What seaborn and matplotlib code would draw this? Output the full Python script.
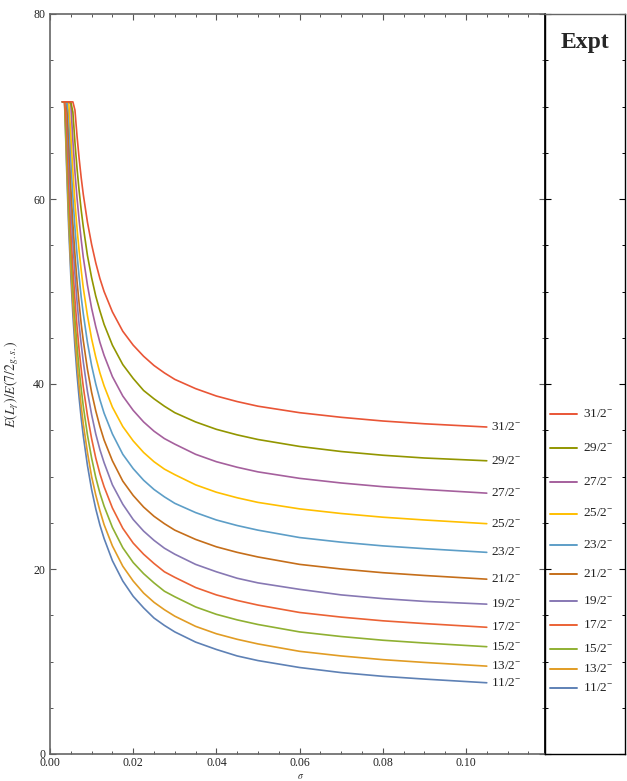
import numpy as np
import pandas as pd
import matplotlib
matplotlib.use("Agg")
import matplotlib.pyplot as plt
import seaborn as sns

# Style
sns.set_theme(style="ticks")
plt.rcParams['font.family'] = ['Liberation Serif', 'DejaVu Serif']
plt.rcParams['mathtext.fontset'] = 'stix'

# Data
states = ["11/2", "13/2", "15/2", "17/2", "19/2", "21/2", "23/2", "25/2", "27/2", "29/2", "31/2"]
colors = ["#5E81B5", "#E19C24", "#8FB032", "#EB6235", "#8778B3", "#C56E1A",
          "#5D9EC7", "#FFBF00", "#A5609D", "#929600", "#E95536"]

sigma = [0.003, 0.0035, 0.004, 0.0045, 0.005, 0.0055, 0.006, 0.0065, 0.007, 0.0075,
         0.008, 0.009, 0.01, 0.011, 0.012, 0.013, 0.015, 0.0175, 0.02, 0.0225,
         0.025, 0.0275, 0.03, 0.035, 0.04, 0.045, 0.05, 0.06, 0.07, 0.08, 0.09, 0.105]

ratio_11 = [70.5, 70.5, 63.25, 56.8, 51.7, 47.5, 44.0, 41.0, 38.5, 36.3, 34.4, 31.2, 28.6, 26.5,
            24.75, 23.3, 20.9, 18.7, 17.05, 15.8, 14.7, 13.9, 13.2, 12.1, 11.3, 10.6, 10.1,
            9.35, 8.8, 8.4, 8.1, 7.7]
ratio_13 = [70.5, 70.5, 64.1, 57.8, 52.7, 48.6, 45.2, 42.3, 39.8, 37.6, 35.7, 32.6, 30.0, 28.0,
            26.3, 24.8, 22.5, 20.3, 18.7, 17.4, 16.4, 15.6, 14.9, 13.8, 13.0, 12.4, 11.9,
            11.1, 10.6, 10.2, 9.9, 9.5]
ratio_15 = [70.5, 70.5, 65.7, 59.5, 54.5, 50.4, 47.0, 44.1, 41.6, 39.5, 37.6, 34.5, 32.0, 29.9,
            28.2, 26.8, 24.5, 22.3, 20.7, 19.5, 18.5, 17.6, 17.0, 15.9, 15.1, 14.5, 14.0,
            13.2, 12.7, 12.3, 12.0, 11.6]
ratio_17 = [70.5, 70.5, 67.8, 61.6, 56.6, 52.5, 49.1, 46.2, 43.7, 41.6, 39.7, 36.6, 34.1, 32.0,
            30.3, 28.9, 26.6, 24.4, 22.8, 21.6, 20.6, 19.7, 19.1, 18.0, 17.2, 16.6, 16.1,
            15.3, 14.8, 14.4, 14.1, 13.7]
ratio_19 = [70.5, 70.5, 70.5, 64.4, 59.4, 55.3, 51.8, 48.9, 46.4, 44.3, 42.4, 39.2, 36.7, 34.6,
            32.9, 31.5, 29.1, 27.0, 25.35, 24.1, 23.1, 22.25, 21.6, 20.5, 19.7, 19.0, 18.5,
            17.8, 17.2, 16.8, 16.5, 16.2]
ratio_21 = [70.5, 70.5, 70.5, 66.35, 61.4, 57.35, 54.0, 51.1, 48.7, 46.5, 44.7, 41.6, 39.1, 37.1,
            35.4, 33.95, 31.7, 29.5, 27.95, 26.7, 25.7, 24.9, 24.2, 23.2, 22.4, 21.8, 21.3,
            20.5, 20.0, 19.6, 19.3, 18.9]
ratio_23 = [70.5, 70.5, 70.5, 69.25, 64.3, 60.25, 56.9, 54.0, 51.6, 49.4, 47.6, 44.5, 42.0, 40.0,
            38.3, 36.85, 34.6, 32.4, 30.85, 29.6, 28.6, 27.8, 27.1, 26.1, 25.3, 24.7, 24.2,
            23.4, 22.9, 22.5, 22.2, 21.8]
ratio_25 = [70.5, 70.5, 70.5, 70.5, 67.0, 63.0, 59.6, 56.8, 54.4, 52.3, 50.4, 47.4, 44.9, 42.9,
            41.2, 39.8, 37.5, 35.4, 33.85, 32.6, 31.6, 30.8, 30.2, 29.1, 28.3, 27.7, 27.2,
            26.5, 26.0, 25.6, 25.3, 24.9]
ratio_27 = [70.5, 70.5, 70.5, 70.5, 70.3, 66.3, 62.9, 60.1, 57.7, 55.6, 53.7, 50.7, 48.2, 46.2,
            44.5, 43.1, 40.8, 38.7, 37.15, 35.9, 34.9, 34.1, 33.5, 32.4, 31.6, 31.0, 30.5,
            29.8, 29.3, 28.9, 28.6, 28.2]
ratio_29 = [70.5, 70.5, 70.5, 70.5, 70.5, 69.4, 66.1, 63.3, 60.9, 58.8, 57.0, 53.9, 51.5, 49.5,
            47.9, 46.45, 44.2, 42.1, 40.6, 39.3, 38.4, 37.6, 36.9, 35.9, 35.1, 34.5, 34.0,
            33.25, 32.7, 32.3, 32.0, 31.7]
ratio_31 = [70.5, 70.5, 70.5, 70.5, 70.5, 70.5, 69.6, 66.8, 64.4, 62.3, 60.5, 57.5, 55.1, 53.1,
            51.4, 50.0, 47.8, 45.7, 44.2, 43.0, 42.0, 41.2, 40.5, 39.5, 38.7, 38.1, 37.6,
            36.9, 36.4, 36.0, 35.7, 35.35]

# experimental ratios shown in the "Expt" panel
expt = [7.1, 9.15, 11.35, 13.9, 16.5, 19.5, 22.6, 26.0, 29.4, 33.05, 36.8]

curves = [ratio_11, ratio_13, ratio_15, ratio_17, ratio_19, ratio_21,
          ratio_23, ratio_25, ratio_27, ratio_29, ratio_31]

rows = []
for st, vals in zip(states, curves):
    for s, v in zip(sigma, vals):
        rows.append({"sigma": s, "ratio": v, "state": st})
df = pd.DataFrame(rows)

rows = []
for st, v in zip(states, expt):
    for xx in (0.0625, 0.4):
        rows.append({"x": xx, "ratio": v, "state": st})
df_expt = pd.DataFrame(rows)

palette = dict(zip(states, colors))


def label(st):
    return r"$\mathregular{" + st + r"^{-}}$"


fig = plt.figure(figsize=(6.27, 7.81), dpi=100)
ax = fig.add_axes([50 / 627, 27 / 781, 495 / 627, 740 / 781])
ax2 = fig.add_axes([545 / 627, 27 / 781, 80 / 627, 740 / 781], sharey=ax)

sns.lineplot(data=df, x="sigma", y="ratio", hue="state", palette=palette,
             estimator=None, sort=False, legend=False, linewidth=1.2, ax=ax)

for st, vals in zip(states, curves):
    ax.annotate(label(st), xy=(sigma[-1], vals[-1]), xytext=(3, 0),
                textcoords="offset points", ha="left", va="center",
                fontsize=9.5, color="#222222")

ax.set_xlim(0, 0.119)
ax.set_ylim(0, 80)
ax.set_xticks([0, 0.02, 0.04, 0.06, 0.08, 0.10])
ax.set_xticklabels(["0.00", "0.02", "0.04", "0.06", "0.08", "0.10"])
ax.set_xticks(np.arange(0, 0.119, 0.005), minor=True)
ax.set_yticks([0, 20, 40, 60, 80])
ax.set_yticks(np.arange(0, 81, 5), minor=True)
ax.tick_params(which="both", direction="in", top=True, right=True,
               color="#555555", labelcolor="#222222", labelsize=8.5)
ax.tick_params(which="major", length=4.5, width=0.8)
ax.tick_params(which="minor", length=2.3, width=0.7)
ax.tick_params(axis="x", pad=2.5)
ax.tick_params(axis="y", pad=3.5)
for side in ["left", "bottom", "top"]:
    ax.spines[side].set_color("#666666")
    ax.spines[side].set_linewidth(1.2)
ax.spines["right"].set_color("black")

ax.set_ylabel(r"$E(L_\gamma)/E(7/2_{g.s.})$", fontsize=10, color="#333333")
ax.yaxis.set_label_coords(-0.058, 0.5)
ax.set_xlabel(r"$\sigma$", fontsize=7, color="#333333")
ax.xaxis.set_label_coords(0.507, -0.024)

# Expt panel
sns.lineplot(data=df_expt, x="x", y="ratio", hue="state", palette=palette,
             estimator=None, sort=False, legend=False, linewidth=1.4, ax=ax2)
for st, v in zip(states, expt):
    ax2.text(0.475, v, label(st), ha="left", va="center", fontsize=9.5,
             color="#222222")
ax2.set_xlim(0, 1)
ax2.set_xticks([])
ax2.set_xlabel("")
ax2.set_ylabel("")
ax2.tick_params(axis="y", which="both", direction="in", left=True, right=True,
                labelleft=False, color="black")
ax2.tick_params(axis="y", which="major", length=4.5, width=0.8)
ax2.tick_params(axis="y", which="minor", length=2.3, width=0.7)
for side in ["left", "right", "bottom", "top"]:
    ax2.spines[side].set_color("black")
    ax2.spines[side].set_linewidth(1.0)
ax2.spines["top"].set_color("#666666")
ax2.text(0.5, 0.961, "Expt", transform=ax2.transAxes, ha="center",
         va="center", fontsize=17, fontweight="bold")

fig.savefig("out.png", dpi=100)
